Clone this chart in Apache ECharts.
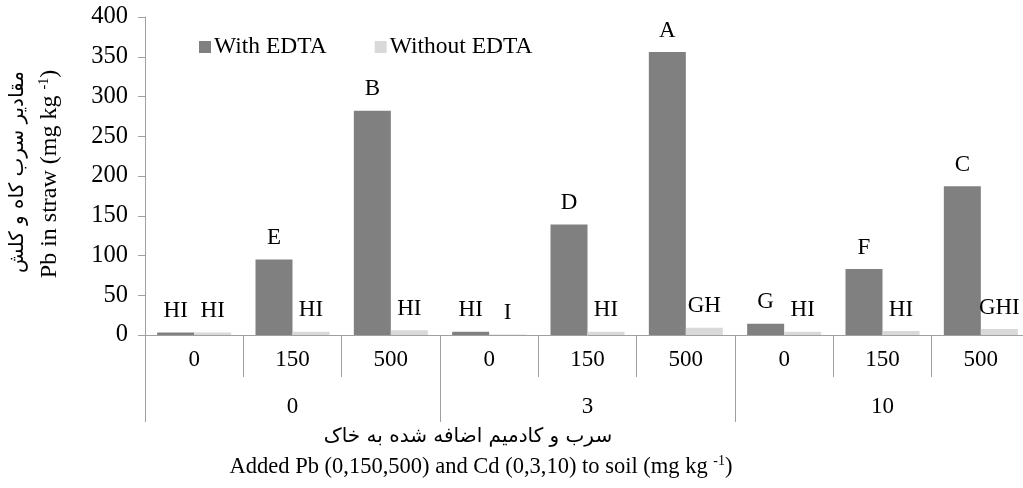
<!DOCTYPE html>
<html>
<head>
<meta charset="utf-8">
<script src="https://cdn.jsdelivr.net/npm/echarts@6/dist/echarts.min.js"></script>
<style>
html,body{margin:0;padding:0;background:#fff;overflow:hidden;width:1023px;height:488px;}
#chart{width:1040px;height:488px;}
</style>
</head>
<body>
<div id="chart"></div>
<script>
// Data
const pbLevels = ['0','150','500','0','150','500','0','150','500'];
const cdLevels = ['0','3','10'];
const withEDTA = [3, 95, 282, 4, 139, 356, 14, 83, 187];
const withoutEDTA = [3, 4, 6, 0.5, 4, 9, 4, 5, 7.5];
const withLetters = ['HI','E','B','HI','D','A','G','F','C'];
const withoutLetters = ['HI','HI','HI','I','HI','GH','HI','HI','GHI'];
const yTicks = {min: 0, max: 400, interval: 50};

const serif = '"Liberation Serif", "Times New Roman", "DejaVu Serif", serif';
const persian = '"DejaVu Sans", "Noto Sans", sans-serif';
const axisColor = '#a0a0a0';

const chart = echarts.init(document.getElementById('chart'), null, {renderer: 'canvas'});

chart.setOption({
  animation: false,
  backgroundColor: '#fff',
  textStyle: {fontFamily: serif},
  grid: {left: 145, top: 17, width: 885, height: 318, containLabel: false},
  legend: {
    left: 194, top: 30,
    icon: 'rect', itemWidth: 12, itemHeight: 12, itemGap: 48,
    textStyle: {fontFamily: serif, fontSize: 23.5, color: '#000', padding: [0, 0, 0, -2]},
    data: ['With EDTA', 'Without EDTA']
  },
  xAxis: [
    {
      type: 'category', data: pbLevels, position: 'bottom',
      axisLine: {show: true, lineStyle: {color: axisColor, width: 1}},
      axisTick: {show: true, interval: 0, length: 42, lineStyle: {color: axisColor}},
      axisLabel: {interval: 0, margin: 13, fontSize: 23, color: '#000', fontFamily: serif},
      splitLine: {show: false}
    },
    {
      type: 'category', data: cdLevels, position: 'bottom',
      axisLine: {show: false},
      axisTick: {show: true, interval: 0, length: 87, lineStyle: {color: axisColor}},
      axisLabel: {interval: 0, margin: 60, fontSize: 23, color: '#000', fontFamily: serif},
      splitLine: {show: false}
    }
  ],
  yAxis: {
    type: 'value', min: yTicks.min, max: yTicks.max, interval: yTicks.interval,
    axisLine: {show: true, lineStyle: {color: axisColor}},
    axisTick: {show: true, length: 7, lineStyle: {color: axisColor}},
    axisLabel: {margin: 17, fontSize: 24.5, color: '#000', fontFamily: serif},
    splitLine: {show: false}
  },
  series: [
    {
      name: 'With EDTA', type: 'bar', xAxisIndex: 0, data: withEDTA,
      barWidth: 37, barGap: '0%',
      itemStyle: {color: '#808080'},
      label: {show: true, position: 'top', distance: 10, fontSize: 23, color: '#000', fontFamily: serif,
        formatter: p => withLetters[p.dataIndex]}
    },
    {
      name: 'Without EDTA', type: 'bar', xAxisIndex: 0, data: withoutEDTA,
      barWidth: 37, barGap: '0%',
      itemStyle: {color: '#d9d9d9'},
      label: {show: true, position: 'top', distance: 10, fontSize: 23, color: '#000', fontFamily: serif,
        formatter: p => withoutLetters[p.dataIndex]}
    }
  ],
  graphic: [
    {
      type: 'text', x: 18, y: 172, rotation: Math.PI / 2,
      style: {text: 'مقادیر سرب کاه و کلش', font: '20px ' + persian, fill: '#000',
        align: 'center', verticalAlign: 'middle'}
    },
    {
      type: 'text', x: 50, y: 174, rotation: Math.PI / 2,
      style: {
        text: '{a|Pb in straw (mg kg }{s|-1}{a|)}',
        align: 'center', verticalAlign: 'middle', fill: '#000',
        rich: {
          a: {fontFamily: serif, fontSize: 24, color: '#000', lineHeight: 26},
          s: {fontFamily: serif, fontSize: 14, color: '#000', verticalAlign: 'top', lineHeight: 26, padding: [0, 0, 10, 0]}
        }
      }
    },
    {
      type: 'text', x: 468, y: 437,
      style: {text: 'سرب و کادمیم اضافه شده به خاک', font: '20px ' + persian, fill: '#000',
        align: 'center', verticalAlign: 'middle'}
    },
    {
      type: 'text', x: 481, y: 467,
      style: {
        text: '{a|Added Pb (0,150,500) and Cd (0,3,10) to soil (mg kg }{s|-1}{a|)}',
        align: 'center', verticalAlign: 'middle', fill: '#000',
        rich: {
          a: {fontFamily: serif, fontSize: 22.5, color: '#000', lineHeight: 26},
          s: {fontFamily: serif, fontSize: 14, color: '#000', verticalAlign: 'top', lineHeight: 26, padding: [0, 0, 10, 0]}
        }
      }
    }
  ]
});
</script>
</body>
</html>
